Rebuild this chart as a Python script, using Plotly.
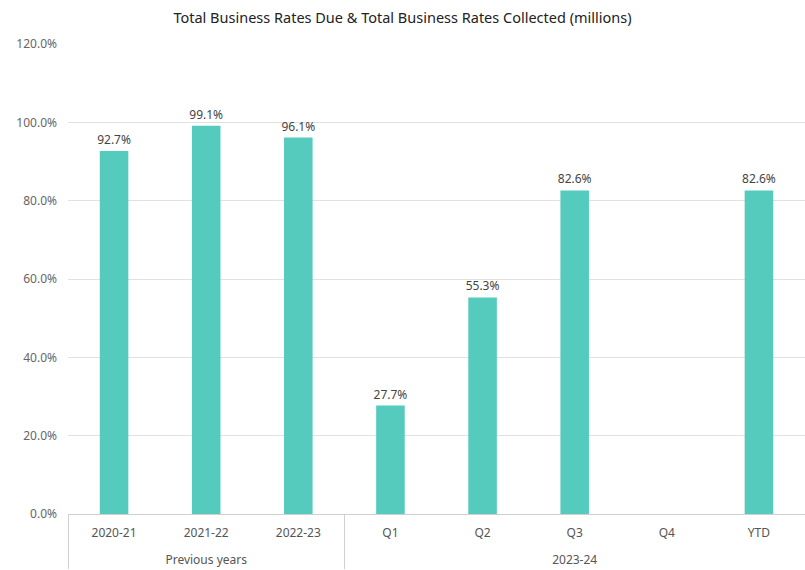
import plotly.graph_objects as go

groups = ["Previous years", "Previous years", "Previous years",
          "2023-24", "2023-24", "2023-24", "2023-24", "2023-24"]
periods = ["2020-21", "2021-22", "2022-23", "Q1", "Q2", "Q3", "Q4", "YTD"]
collected_pct = [92.7, 99.1, 96.1, 27.7, 55.3, 82.6, None, 82.6]
y_ticks = [0, 20, 40, 60, 80, 100, 120]

FONT = "Segoe UI, Noto Sans, Open Sans, sans-serif"

labels = [f"{v:.1f}%" if v is not None else "" for v in collected_pct]
# a blank second line under each period label gives the group row more room
period_labels = [f"{p}<br> " for p in periods]

fig = go.Figure(go.Bar(
    x=[groups, period_labels],
    y=collected_pct,
    marker=dict(color="#55CBBE", line=dict(width=0)),
    text=labels,
    textposition="outside",
    constraintext="none",
    textfont=dict(family=FONT, size=12, color="#444444"),
    cliponaxis=False,
    hoverinfo="skip",
))

fig.update_layout(
    width=805, height=570,
    margin=dict(l=68, r=0, t=44, b=56),
    paper_bgcolor="white", plot_bgcolor="white",
    bargap=0.69,
    showlegend=False,
    title=dict(
        text="Total Business Rates Due & Total Business Rates Collected (millions)",
        x=0.5, xanchor="center", y=0.968, yanchor="middle",
        font=dict(family=FONT, size=14.5, color="#222222"),
    ),
    font=dict(family=FONT, size=12, color="#555555"),
)

fig.update_yaxes(
    range=[0, 120],
    tickvals=y_ticks,
    ticktext=[f"{t:.1f}%" for t in y_ticks],
    showgrid=True, gridcolor="#E1E1E1", gridwidth=1,
    zeroline=False,
    showline=False,
    ticks="",
    ticklabelstandoff=10,
    tickfont=dict(family=FONT, size=12, color="#666666"),
)

fig.update_xaxes(
    showline=True, linecolor="#D0D0D0", linewidth=1,
    showdividers=True, dividercolor="#D0D0D0", dividerwidth=1,
    ticks="",
    ticklabelstandoff=8,
    tickfont=dict(family=FONT, size=12, color="#555555"),
)

fig.write_html("out.html")
